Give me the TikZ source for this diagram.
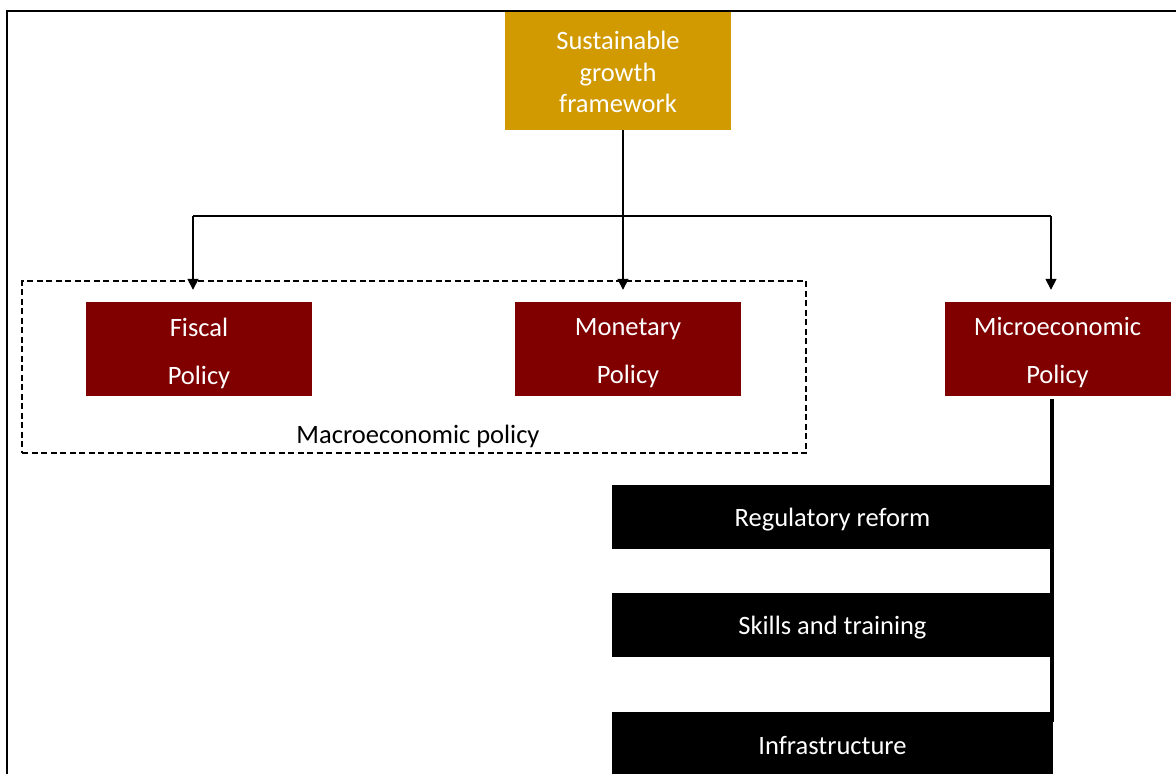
\documentclass[tikz,border=0pt]{standalone}
\usepackage{fontspec}
\setmainfont{Carlito}
\usetikzlibrary{arrows.meta,positioning}
\definecolor{gold}{RGB}{208,154,0}
\definecolor{maroon}{RGB}{128,0,0}
% set a line a little lower without changing its box
\newcommand\lowered[2][4pt]{\raisebox{-#1}[\height][\depth]{#2}}
\tikzset{
  box/.style={draw=none,inner sep=0pt,minimum width=226pt,minimum height=94pt,
    text=white,align=center,font=\fontsize{26.5}{48}\selectfont},
  topbox/.style={fill=gold,draw=none,inner sep=0pt,minimum width=226pt,minimum height=118pt,
    text=white,align=center,font=\fontsize{26.5}{31.5}\selectfont},
  policy/.style={box,fill=maroon},
  item/.style={fill=black,draw=none,inner sep=0pt,minimum width=441pt,minimum height=64pt,
    text=white,font=\fontsize{26.5}{32}\selectfont},
  conn/.style={line width=1.6pt,draw=black},
  arr/.style={conn,-{Triangle[width=11pt,length=11pt]},shorten >=12pt},
  spine/.style={line width=3.5pt,draw=black}
}
\begin{document}
\begin{tikzpicture}[x=1pt,y=-1pt]
\useasboundingbox (0,0) rectangle (1176,774);
\begin{scope}
\clip (0,0) rectangle (1176,774);
% outer frame, open to the right and bottom
\draw[line width=2.6pt] (7,790) -- (7,11) -- (1190,11);

% macroeconomic grouping
\node[draw,dash pattern=on 6pt off 3.5pt,line width=1.1pt,minimum width=784pt,minimum height=172pt,inner sep=0pt]
  (macro) at (414,367) {};
\node[font=\fontsize{26.5}{32}\selectfont,anchor=base] (macrolbl) at (418,443) {Macroeconomic policy};

% nodes
\node[topbox] (top) at (618,71) {\lowered[1pt]{Sustainable}\\\lowered[1pt]{growth}\\\lowered[1pt]{framework}};
\node[policy] (fis) at (199,349) {\lowered{Fiscal}\\\lowered{Policy}};
\node[policy] (mon) at (628,349) {\lowered{Monetary}\\\lowered{Policy}};
\node[policy] (mic) at (1057.5,349) {\lowered{Microeconomic}\\\lowered{Policy}};

\node[item] (reg) at (832.5,517) {\lowered[3pt]{Regulatory reform}};
\node[item] (skl) at (832.5,625) {\lowered[3pt]{Skills and training}};
\node[item] (inf) at (832.5,744) {\lowered[2pt]{Infrastructure}};

% branch points
\coordinate (jm) at (623,216);
\coordinate (jf) at (193,216);
\coordinate (jr) at (1051,216);
\coordinate (send) at (1052,722);

% connectors
\draw[conn] (jf) -- (jr);
\draw[arr] (top.south -| jm) -- (mon.north -| jm);
\draw[arr] (jf) -- (fis.north -| jf);
\draw[arr] (jr) -- (mic.north -| jr);
\draw[spine] (mic.south -| send) ++(0,3) -- (send);
\end{scope}
\end{tikzpicture}
\end{document}
